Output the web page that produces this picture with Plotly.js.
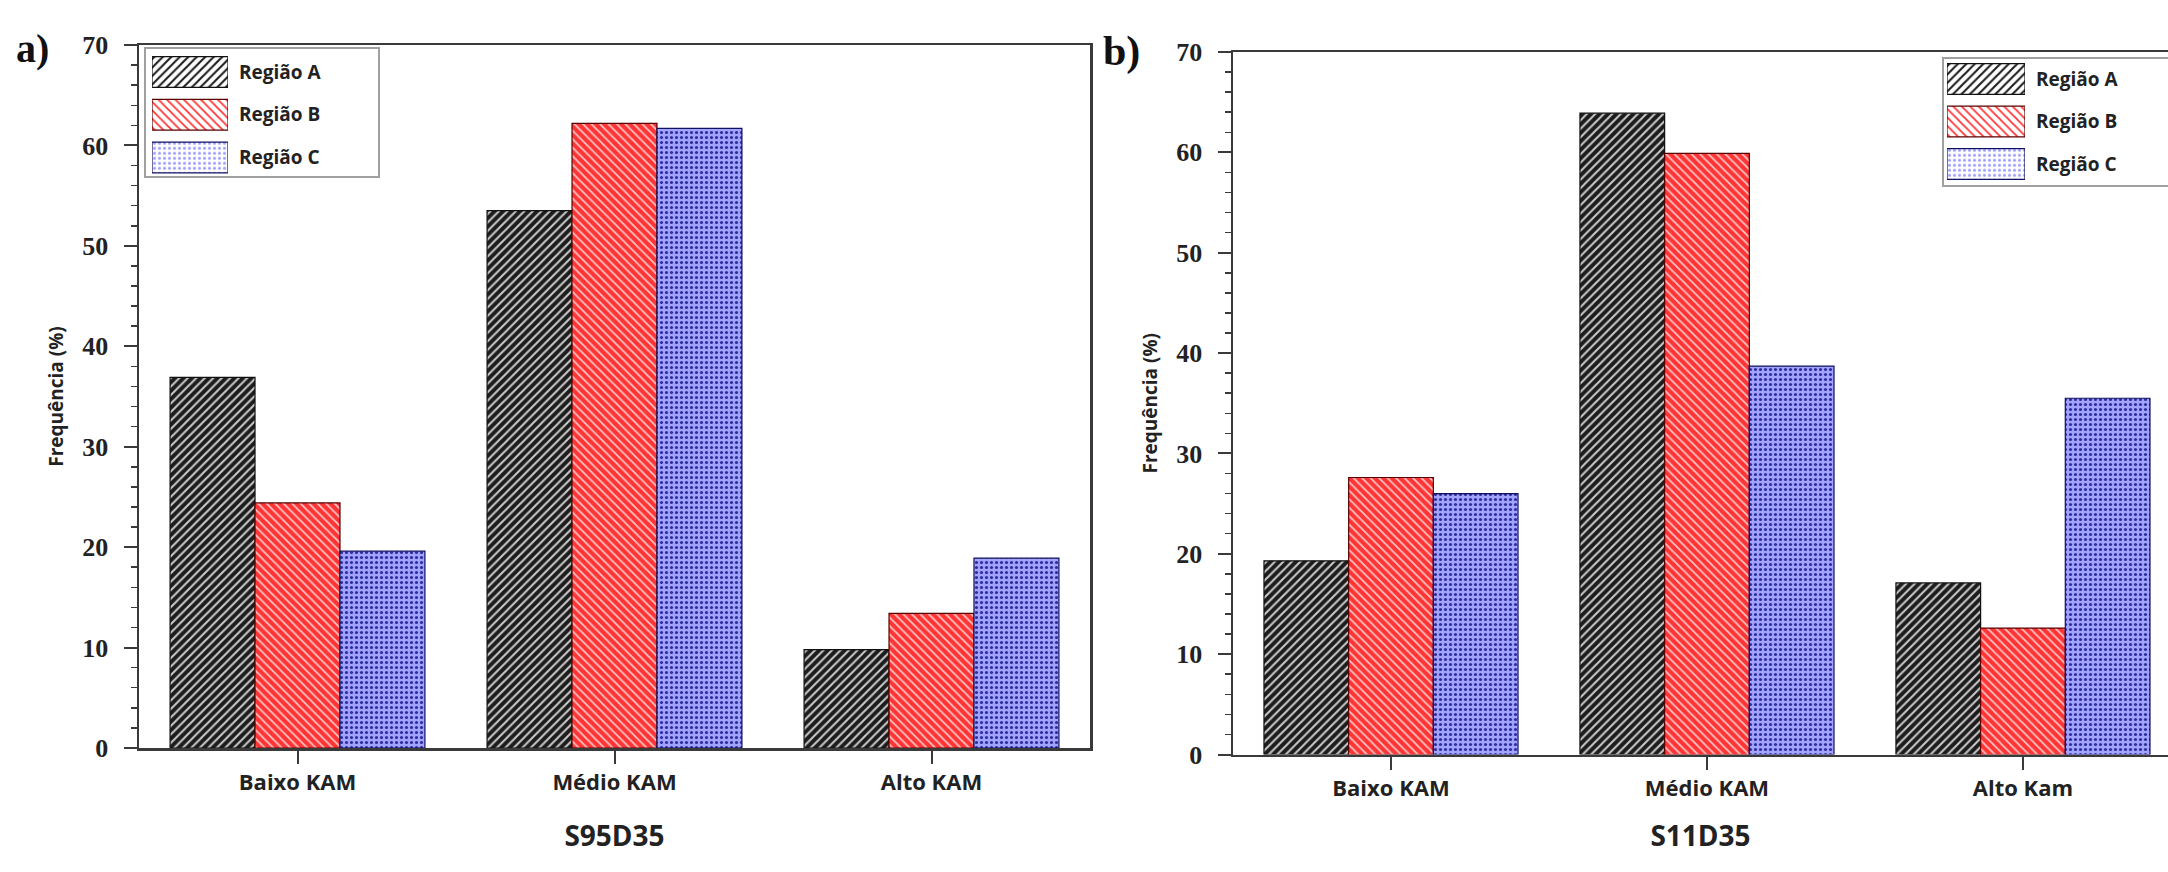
<!DOCTYPE html>
<html>
<head>
<meta charset="utf-8">
<script src="https://cdn.plot.ly/plotly-3.0.1.min.js"></script>
<style>
  html, body { margin: 0; padding: 0; background: #ffffff; }
  #chart { width: 2168px; height: 872px; }
</style>
</head>
<body>
<div id="chart"></div>
<script>
// ---- data ----
const categoriesA = ['Baixo KAM', 'Médio KAM', 'Alto KAM'];
const categoriesB = ['Baixo KAM', 'Médio KAM', 'Alto Kam'];
const seriesNames = ['Região A', 'Região B', 'Região C'];
const panelA_regiaoA = [36.9, 53.5, 9.8];
const panelA_regiaoB = [24.4, 62.2, 13.4];
const panelA_regiaoC = [19.6, 61.7, 18.9];
const panelB_regiaoA = [19.3, 63.9, 17.1];
const panelB_regiaoB = [27.6, 59.9, 12.6];
const panelB_regiaoC = [26.0, 38.7, 35.5];
const panelTitles = ['S95D35', 'S11D35'];
const panelLabels = ['a)', 'b)'];
const yAxisTitle = 'Frequência (%)';

// ---- styles ----
const W = 2168, H = 872;
const px = v => v / W;
const py = v => 1 - v / H;

const styles = [
  { color: '#1c1c1c', pattern: { shape: '/', bgcolor: '#1c1c1c', fgcolor: '#c8c8c8', size: 6, solidity: 0.35 }, line: '#111111' },
  { color: '#ff3434', pattern: { shape: '\\', bgcolor: '#ff3434', fgcolor: '#ffc4c4', size: 6, solidity: 0.3 }, line: '#5a0000' },
  { color: '#a2a2ff', pattern: { shape: '.', bgcolor: '#a2a2ff', fgcolor: '#2c2c9c', size: 5, solidity: 0.3 }, line: '#101060' }
];

const sansBold = { family: 'Open Sans, sans-serif', weight: 'bold', color: '#222222' };
const serifBold = { family: 'Liberation Serif, serif', weight: 'bold', color: '#222222' };

const panelSeries = [
  [panelA_regiaoA, panelA_regiaoB, panelA_regiaoC],
  [panelB_regiaoA, panelB_regiaoB, panelB_regiaoC]
];
const panelCats = [categoriesA, categoriesB];
const axisIds = [['x', 'y'], ['x2', 'y2']];

const traces = [];
panelSeries.forEach((series, p) => {
  series.forEach((vals, s) => {
    traces.push({
      type: 'bar',
      name: seriesNames[s],
      x: panelCats[p],
      y: vals,
      xaxis: axisIds[p][0],
      yaxis: axisIds[p][1],
      showlegend: false,
      hoverinfo: 'x+y+name',
      marker: {
        color: styles[s].color,
        pattern: Object.assign({ fillmode: 'replace' }, styles[s].pattern),
        line: { color: styles[s].line, width: 1.2 }
      }
    });
  });
});

// legend swatches (one per panel) drawn as horizontal bars on small axes
const legendAxes = [['x3', 'y3'], ['x4', 'y4']];
legendAxes.forEach(ax => {
  traces.push({
    type: 'bar',
    orientation: 'h',
    x: seriesNames.map(() => 1),
    y: seriesNames,
    width: seriesNames.map(() => 0.72),
    xaxis: ax[0],
    yaxis: ax[1],
    showlegend: false,
    hoverinfo: 'skip',
    marker: {
      color: styles.map(s => s.color),
      pattern: {
        fillmode: 'replace',
        shape: styles.map(s => s.pattern.shape),
        bgcolor: styles.map(s => s.pattern.bgcolor),
        fgcolor: styles.map(s => s.pattern.fgcolor),
        size: styles.map(s => s.pattern.size),
        solidity: styles.map(s => s.pattern.solidity)
      },
      line: { color: styles.map(s => s.line), width: 1.2 }
    }
  });
});

const lineColor = '#3a3a3a';

function xAxisDef(domain, range, title, anchor, standoff) {
  return {
    domain: domain,
    anchor: anchor,
    type: 'category',
    range: range,
    showline: true,
    mirror: true,
    linecolor: lineColor,
    linewidth: 2.5,
    ticks: 'outside',
    ticklen: 13,
    tickwidth: 2,
    tickcolor: lineColor,
    tickfont: Object.assign({ size: 22 }, sansBold),
    ticklabelstandoff: 0,
    showgrid: false,
    zeroline: false,
    title: { text: title, font: Object.assign({ size: 28 }, sansBold), standoff: standoff }
  };
}

function yAxisDef(domain, anchor, mirror) {
  return {
    domain: domain,
    anchor: anchor,
    range: [0, 70],
    dtick: 10,
    showline: true,
    mirror: mirror,
    linecolor: lineColor,
    linewidth: 2.5,
    ticks: 'outside',
    ticklen: 13,
    tickwidth: 2,
    tickcolor: lineColor,
    minor: { dtick: 2, ticks: 'outside', ticklen: 6, tickwidth: 1.5, tickcolor: lineColor, showgrid: false },
    tickfont: Object.assign({ size: 26 }, serifBold),
    ticklabelstandoff: 10,
    showgrid: false,
    zeroline: false,
    title: { text: yAxisTitle, font: Object.assign({ size: 19 }, sansBold), standoff: 14 }
  };
}

function legendX(domain, anchor) {
  return { domain: domain, anchor: anchor, range: [0, 1], visible: false, fixedrange: true };
}
function legendY(domain, anchor) {
  return {
    domain: domain, anchor: anchor, type: 'category', range: [2.5, -0.5],
    side: 'right', showline: false, ticks: '', showgrid: false, zeroline: false,
    tickfont: Object.assign({ size: 19 }, sansBold), ticklabelstandoff: 10, fixedrange: true
  };
}

const layout = {
  width: W,
  height: H,
  margin: { l: 0, r: 0, t: 0, b: 0 },
  paper_bgcolor: '#ffffff',
  plot_bgcolor: 'rgba(0,0,0,0)',
  barmode: 'group',
  bargap: 0.196,
  bargroupgap: 0,
  showlegend: false,
  xaxis: xAxisDef([px(139), px(1090)], [-0.5, 2.5], panelTitles[0], 'y', 32),
  yaxis: yAxisDef([py(748), py(45)], 'x', true),
  xaxis2: xAxisDef([px(1233), 1], [-0.5, 2.459], panelTitles[1], 'y2', 25),
  yaxis2: yAxisDef([py(754.5), py(52)], 'x2', false),
  xaxis3: legendX([px(152), px(228)], 'y3'),
  yaxis3: legendY([py(178.75), py(50.75)], 'x3'),
  xaxis4: legendX([px(1947), px(2025)], 'y4'),
  yaxis4: legendY([py(185.25), py(57.75)], 'x4'),
  shapes: [
    { type: 'rect', xref: 'paper', yref: 'paper', x0: px(145), x1: px(379), y0: py(177), y1: py(48),
      line: { color: '#a0a0a0', width: 2 }, fillcolor: 'rgba(0,0,0,0)', layer: 'below' },
    { type: 'rect', xref: 'paper', yref: 'paper', x0: px(1943), x1: px(2180), y0: py(186), y1: py(58),
      line: { color: '#a0a0a0', width: 2 }, fillcolor: 'rgba(0,0,0,0)', layer: 'below' }
  ],
  annotations: [
    { text: panelLabels[0], xref: 'paper', yref: 'paper', x: px(14), y: py(48), xanchor: 'left', yanchor: 'middle',
      showarrow: false, font: Object.assign({ size: 40 }, serifBold, { color: '#111111' }) },
    { text: panelLabels[1], xref: 'paper', yref: 'paper', x: px(1101), y: py(52), xanchor: 'left', yanchor: 'middle',
      showarrow: false, font: Object.assign({ size: 42 }, serifBold, { color: '#111111' }) }
  ]
};

Plotly.newPlot('chart', traces, layout, { staticPlot: true, displayModeBar: false });
</script>
</body>
</html>
